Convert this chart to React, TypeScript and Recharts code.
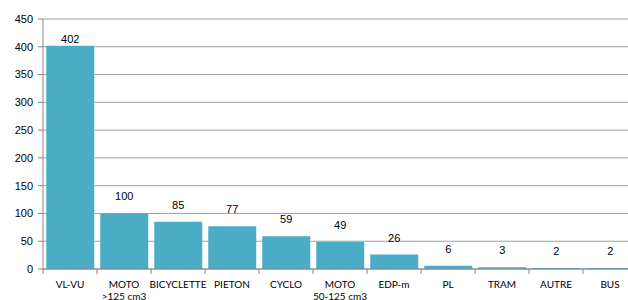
import React from "react";
import { BarChart, Bar, XAxis, YAxis, CartesianGrid, LabelList } from "recharts";

const categories = ["VL-VU", "MOTO\n>125 cm3", "BICYCLETTE", "PIETON", "CYCLO", "MOTO\n50-125 cm3", "EDP-m", "PL", "TRAM", "AUTRE", "BUS"];
const values = [402, 100, 85, 77, 59, 49, 26, 6, 3, 2, 2];
const yTicks = [0, 50, 100, 150, 200, 250, 300, 350, 400, 450];

const data = categories.map((c, i) => ({ name: c, value: values[i] }));

const CHART_W = 640;
const CHART_H = 300;
const MARGIN = { top: 19, right: 3, bottom: 0, left: 0 };
const Y_W = 43;
const X_H = 31;
const PLOT_W = CHART_W - MARGIN.left - MARGIN.right - Y_W;
const PLOT_TOP = MARGIN.top;
const BAND = PLOT_W / categories.length;

const XTick = (props: any) => {
  const { x, y, payload } = props;
  const lines = String(payload.value).split("\n");
  return (
    <g>
      <line x1={x - BAND / 2} x2={x - BAND / 2} y1={y} y2={y + 5} stroke="#868686" />
      <text textAnchor="middle" fontFamily="Lato, 'Liberation Sans', sans-serif" fontSize={10} fill="#000">
        {lines.map((l, i) => (
          <tspan key={i} x={x} y={y + 19 + i * 12}>{l}</tspan>
        ))}
      </text>
    </g>
  );
};

const ValLabel = (props: any) => {
  const { x, y, width, value } = props;
  const ty = Math.max(y - 13, PLOT_TOP + 24);
  return (
    <text x={x + width / 2} y={ty} textAnchor="middle" fontFamily="'Liberation Sans', Arial, sans-serif" fontSize={11} fill="#000">
      {value}
    </text>
  );
};

export default function App() {
  return (
    <div style={{ position: "absolute", left: 0, top: 0, width: 628, height: 300, overflow: "hidden", background: "#fff" }}>
      <BarChart width={CHART_W} height={CHART_H} data={data} margin={MARGIN} barCategoryGap="6%">
        <CartesianGrid vertical={false} stroke="#A0A0A0" />
        <XAxis
          dataKey="name"
          height={X_H}
          interval={0}
          tickSize={0}
          tickMargin={0}
          tickLine={false}
          axisLine={{ stroke: "#868686" }}
          tick={<XTick />}
        />
        <YAxis
          width={Y_W}
          domain={[0, 450]}
          ticks={yTicks}
          interval={0}
          tickSize={5}
          tickMargin={5}
          axisLine={{ stroke: "#868686" }}
          tickLine={{ stroke: "#868686" }}
          tick={{ fontFamily: "'Liberation Sans', Arial, sans-serif", fontSize: 11, fill: "#000" }}
        />
        <Bar dataKey="value" fill="#4BACC6" isAnimationActive={false}>
          <LabelList dataKey="value" content={<ValLabel />} />
        </Bar>
      </BarChart>
    </div>
  );
}
